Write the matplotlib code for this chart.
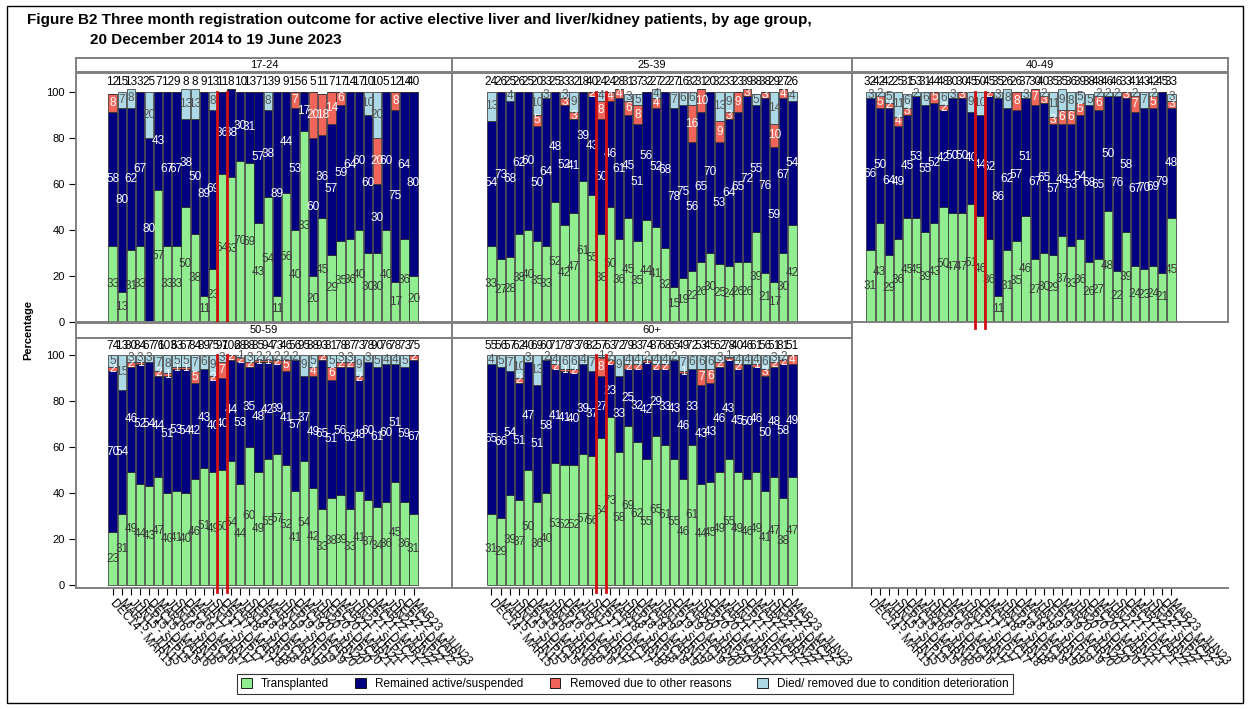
import matplotlib
matplotlib.use("Agg")
import matplotlib.pyplot as plt
from matplotlib.patches import Patch, Rectangle

# ---------------------------------------------------------------- data
PERIODS = [
    "DEC14 - MAR15", "MAR15 - JUN15", "JUN15 - SEP15", "SEP15 - DEC15",
    "DEC15 - MAR16", "MAR16 - JUN16", "JUN16 - SEP16", "SEP16 - DEC16",
    "DEC16 - MAR17", "MAR17 - JUN17", "JUN17 - SEP17", "SEP17 - DEC17",
    "DEC17 - MAR18", "MAR18 - JUN18", "JUN18 - SEP18", "SEP18 - DEC18",
    "DEC18 - MAR19", "MAR19 - JUN19", "JUN19 - SEP19", "SEP19 - DEC19",
    "DEC19 - MAR20", "MAR20 - JUN20", "JUN20 - SEP20", "SEP20 - DEC20",
    "DEC20 - MAR21", "MAR21 - JUN21", "JUN21 - SEP21", "SEP21 - DEC21",
    "DEC21 - MAR22", "MAR22 - JUN22", "JUN22 - SEP22", "SEP22 - DEC22",
    "DEC22 - MAR23", "MAR23 - JUN23",
]

AGE_GROUPS = ["17-24", "25-39", "40-49", "50-59", "60+"]
OUTCOMES = ["Transplanted", "Remained active/suspended",
            "Removed due to other reasons",
            "Died/ removed due to condition deterioration"]

# percentages per period: transplanted / active / removed / died
TX_17_24 = [33, 13, 31, 33, 0, 57, 33, 33, 50, 38, 11, 23, 64, 63, 70, 69, 43,
            54, 11, 56, 40, 83, 20, 45, 29, 35, 36, 40, 30, 30, 40, 17, 36, 20]
ACT_17_24 = [58, 80, 62, 67, 80, 43, 67, 67, 38, 50, 89, 69, 36, 38, 30, 31, 57,
             38, 89, 44, 53, 17, 60, 36, 57, 59, 64, 60, 60, 30, 60, 75, 64, 80]
REM_17_24 = [8, 0, 0, 0, 0, 0, 0, 0, 0, 0, 0, 0, 0, 0, 0, 0, 0,
             0, 0, 0, 7, 0, 20, 18, 14, 6, 0, 0, 0, 20, 0, 8, 0, 0]
DIED_17_24 = [0, 7, 8, 0, 20, 0, 0, 0, 13, 13, 0, 8, 0, 0, 0, 0, 0,
              8, 0, 0, 0, 0, 0, 0, 0, 0, 0, 0, 10, 20, 0, 0, 0, 0]
N_17_24 = [12, 15, 13, 3, 25, 7, 12, 9, 8, 8, 9, 13, 11, 8, 10, 13, 7,
           13, 9, 9, 15, 6, 5, 11, 7, 17, 14, 17, 10, 10, 5, 12, 14, 40]

TX_25_39 = [33, 27, 28, 38, 40, 35, 33, 52, 42, 47, 61, 55, 38, 50, 36, 45, 35,
            44, 41, 32, 15, 19, 22, 26, 30, 25, 24, 26, 26, 39, 21, 17, 30, 42]
ACT_25_39 = [54, 73, 68, 62, 60, 50, 64, 48, 52, 41, 39, 43, 50, 46, 61, 45, 51,
             56, 52, 68, 78, 75, 56, 65, 70, 53, 64, 65, 72, 55, 76, 59, 67, 54]
REM_25_39 = [0, 0, 0, 0, 0, 5, 0, 0, 3, 3, 0, 2, 8, 4, 4, 6, 8,
             0, 4, 0, 0, 0, 16, 10, 0, 9, 3, 9, 3, 0, 3, 10, 4, 0]
DIED_25_39 = [13, 0, 4, 0, 0, 10, 3, 0, 3, 9, 0, 0, 4, 0, 0, 3, 5,
              0, 4, 0, 7, 6, 6, 0, 0, 13, 9, 0, 0, 5, 0, 14, 0, 4]
N_25_39 = [24, 26, 25, 26, 25, 20, 33, 25, 33, 32, 18, 40, 24, 24, 28, 31, 37,
           32, 27, 22, 27, 16, 32, 31, 20, 32, 33, 23, 39, 38, 38, 29, 27, 26]

TX_40_49 = [31, 43, 29, 36, 45, 45, 39, 43, 50, 47, 47, 51, 46, 36, 11, 31, 35,
            46, 27, 30, 29, 37, 33, 36, 26, 27, 48, 22, 39, 24, 23, 24, 21, 45]
ACT_40_49 = [66, 50, 64, 49, 45, 53, 55, 52, 42, 50, 50, 40, 44, 62, 86, 62, 57,
             51, 67, 65, 57, 49, 53, 54, 68, 65, 50, 76, 58, 67, 70, 69, 79, 48]
REM_40_49 = [0, 5, 2, 4, 3, 0, 0, 5, 2, 0, 3, 0, 0, 2, 0, 0, 8,
             0, 7, 3, 3, 6, 6, 5, 0, 6, 0, 0, 3, 7, 0, 5, 0, 3]
DIED_40_49 = [3, 2, 5, 11, 6, 2, 6, 0, 6, 3, 0, 9, 10, 0, 3, 8, 0,
              3, 0, 2, 11, 9, 8, 5, 5, 2, 2, 2, 0, 2, 7, 2, 0, 3]
N_40_49 = [32, 42, 42, 25, 31, 53, 31, 44, 48, 30, 30, 45, 50, 45, 35, 26, 26,
           37, 30, 40, 35, 35, 36, 39, 38, 48, 46, 46, 33, 41, 43, 42, 45, 33]

TX_50_59 = [23, 31, 49, 44, 43, 47, 40, 41, 40, 46, 51, 49, 50, 54, 44, 60, 49,
            55, 57, 52, 41, 54, 42, 33, 38, 39, 33, 41, 37, 34, 36, 45, 36, 31]
ACT_50_59 = [70, 54, 46, 52, 54, 44, 51, 53, 54, 42, 43, 40, 40, 44, 53, 35, 48,
             42, 39, 41, 57, 37, 49, 65, 51, 56, 62, 48, 60, 61, 60, 51, 59, 67]
REM_50_59 = [2, 0, 2, 1, 0, 2, 1, 1, 1, 5, 0, 2, 7, 2, 2, 2, 1,
             1, 2, 5, 0, 0, 4, 2, 6, 2, 2, 2, 0, 0, 0, 0, 0, 2]
DIED_50_59 = [5, 15, 3, 3, 3, 7, 8, 5, 5, 7, 6, 9, 3, 0, 1, 3, 2,
              2, 2, 2, 2, 9, 5, 0, 5, 3, 3, 9, 3, 5, 4, 4, 5, 0]
N_50_59 = [74, 13, 80, 84, 67, 76, 103, 63, 67, 84, 89, 75, 97, 102, 68, 88, 85,
           94, 73, 46, 56, 95, 88, 93, 81, 78, 87, 73, 78, 90, 76, 78, 73, 75]

TX_60 = [31, 29, 39, 37, 50, 36, 40, 53, 52, 52, 57, 56, 64, 73, 58, 69, 62,
         55, 65, 61, 55, 46, 61, 44, 45, 49, 55, 49, 46, 49, 41, 47, 38, 47]
ACT_60 = [65, 66, 54, 51, 47, 51, 58, 41, 41, 40, 39, 37, 27, 23, 33, 25, 32,
          42, 29, 33, 43, 46, 33, 43, 43, 46, 43, 45, 50, 46, 50, 48, 58, 49]
REM_60 = [0, 0, 0, 2, 0, 0, 0, 2, 1, 2, 0, 0, 8, 2, 0, 2, 2,
          1, 2, 2, 0, 1, 0, 7, 6, 2, 1, 2, 0, 1, 3, 2, 2, 4]
DIED_60 = [4, 5, 7, 10, 3, 13, 2, 4, 6, 6, 4, 7, 1, 2, 9, 4, 4,
           2, 4, 4, 2, 7, 6, 6, 6, 3, 1, 4, 4, 4, 6, 3, 2, 0]
N_60 = [55, 56, 57, 62, 40, 69, 60, 71, 78, 73, 76, 82, 57, 63, 72, 79, 83,
        74, 87, 68, 65, 49, 72, 53, 45, 62, 78, 40, 46, 61, 56, 51, 81, 51]

# period boundaries marked with red reference lines
MARK_LINES = [11.5, 12.5]

# ---------------------------------------------------------------- style
COLORS = ["#90EE90", "#000080", "#F0645A", "#ADD8E6"]
LABEL_COLORS = ["#3a3a3a", "white", "white", "#555555"]
FRAME = "#808080"
NARROW = ["Liberation Sans Narrow", "Liberation Sans", "DejaVu Sans"]
SANS = ["Liberation Sans", "DejaVu Sans"]

W, H = 1250, 709
fig = plt.figure(figsize=(W / 100, H / 100), dpi=100)


def fig_rect(x0, y0, x1, y1):
    """Pixel box (top-left origin) -> figure fraction rectangle."""
    return [x0 / W, 1 - y1 / H, (x1 - x0) / W, (y1 - y0) / H]


# outer border
fig.patches.append(Rectangle((7 / W, 6 / H), 1236 / W, 1 - 12 / H,
                             transform=fig.transFigure, fill=False,
                             edgecolor="black", linewidth=1.0))

fig.text(27 / W, 1 - 20 / H,
         "Figure B2 Three month registration outcome for active elective liver "
         "and liver/kidney patients, by age group,",
         family=NARROW, fontsize=11, fontweight="bold", va="center", ha="left")
fig.text(90 / W, 1 - 40 / H, "20 December 2014 to 19 June 2023",
         family=NARROW, fontsize=11, fontweight="bold", va="center", ha="left")

COLS = [(76, 452), (452, 852), (852, 1228)]
FIRST_CENTER = [112.6, 491.5, 870.5]
STEP = 9.12
ROWS = [
    {"strip": (58, 72), "plot": (73, 322), "zero": 321.5, "hundred": 91.5},
    {"strip": (323, 338), "plot": (338, 588), "zero": 585.0, "hundred": 355.0},
]

panels = [
    ("17-24", TX_17_24, ACT_17_24, REM_17_24, DIED_17_24, N_17_24),
    ("25-39", TX_25_39, ACT_25_39, REM_25_39, DIED_25_39, N_25_39),
    ("40-49", TX_40_49, ACT_40_49, REM_40_49, DIED_40_49, N_40_49),
    ("50-59", TX_50_59, ACT_50_59, REM_50_59, DIED_50_59, N_50_59),
    ("60+", TX_60, ACT_60, REM_60, DIED_60, N_60),
]

x = list(range(len(PERIODS)))


def xlim_for(col):
    x0, x1 = COLS[col]
    lo = -(FIRST_CENTER[col] - x0) / STEP
    return lo, lo + (x1 - x0) / STEP


def ylim_for(row):
    r = ROWS[row]
    ppu = (r["zero"] - r["hundred"]) / 100.0
    top, bottom = r["plot"]
    return (r["zero"] - bottom) / ppu, (r["zero"] - top) / ppu


def set_xticks(ax):
    ax.set_xticks(x)
    ax.set_xticklabels(PERIODS, rotation=-48, rotation_mode="anchor",
                       ha="left", va="center", family=SANS, fontsize=8.3)
    ax.tick_params(axis="x", length=5, width=0.8, color="black", pad=4)


for idx, (name, tx, act, rem, died, n) in enumerate(panels):
    row, col = divmod(idx, 3)
    r = ROWS[row]
    x0, x1 = COLS[col]

    # strip header
    sax = fig.add_axes(fig_rect(x0, r["strip"][0], x1, r["strip"][1]))
    sax.set_xticks([])
    sax.set_yticks([])
    for s in sax.spines.values():
        s.set_color(FRAME)
        s.set_linewidth(1.4)
    sax.text(0.5, 0.5, name, ha="center", va="center", family=SANS,
             fontsize=8, transform=sax.transAxes)

    ax = fig.add_axes(fig_rect(x0, r["plot"][0], x1, r["plot"][1]))
    bottom = [0] * len(x)
    for series, color, lcolor in zip((tx, act, rem, died), COLORS, LABEL_COLORS):
        ax.bar(x, series, bottom=bottom, width=0.9, color=color,
               edgecolor="#2a2a2a", linewidth=0.5, zorder=2)
        for xi, b, v in zip(x, bottom, series):
            if v > 0:
                ax.text(xi, b + v / 2, f"{v}", ha="center", va="center",
                        family=NARROW, fontsize=8.5, color=lcolor, zorder=4)
        bottom = [b + v for b, v in zip(bottom, series)]
    for xi, count in zip(x, n):
        ax.text(xi, 104, f"{count}", ha="center", va="center",
                family=NARROW, fontsize=8.5, color="black", zorder=4)

    for xm in MARK_LINES:
        ax.plot([xm, xm], [-3, 100], color="#D01010", linewidth=2.0,
                clip_on=False, zorder=5)

    ax.set_xlim(*xlim_for(col))
    ax.set_ylim(*ylim_for(row))
    for s in ax.spines.values():
        s.set_color(FRAME)
        s.set_linewidth(1.4)

    if col == 0:
        ax.set_yticks([0, 20, 40, 60, 80, 100])
        ax.set_yticklabels(["0", "20", "40", "60", "80", "100"],
                           family=SANS, fontsize=8)
        ax.tick_params(axis="y", length=5, width=0.8, color="black", pad=3)
    else:
        ax.set_yticks([])

    if row == 1:
        set_xticks(ax)
    else:
        ax.set_xticks([])

# axis for the unused bottom-right cell: only the period labels
r = ROWS[1]
eax = fig.add_axes(fig_rect(COLS[2][0], r["plot"][0], COLS[2][1], r["plot"][1]))
eax.set_xlim(*xlim_for(2))
eax.set_ylim(*ylim_for(1))
eax.patch.set_visible(False)
for side in ("left", "right", "top"):
    eax.spines[side].set_visible(False)
eax.spines["bottom"].set_color(FRAME)
eax.spines["bottom"].set_linewidth(1.4)
eax.set_yticks([])
set_xticks(eax)

fig.text(28 / W, 1 - 330 / H, "Percentage", rotation=90, ha="center",
         va="center", family=SANS, fontsize=8, fontweight="bold")

handles = [Patch(facecolor=c, edgecolor="black", linewidth=0.6) for c in COLORS]
leg = fig.legend(handles, OUTCOMES, loc="center", ncol=4,
                 bbox_to_anchor=(625 / W, 1 - 684 / H),
                 prop={"family": SANS, "size": 8.5}, frameon=True,
                 fancybox=False, handlelength=0.9, handleheight=0.9,
                 handletextpad=0.8, columnspacing=2.2, borderpad=0.35)
leg.get_frame().set_edgecolor("black")
leg.get_frame().set_linewidth(0.8)

fig.savefig("out.png", dpi=100)
